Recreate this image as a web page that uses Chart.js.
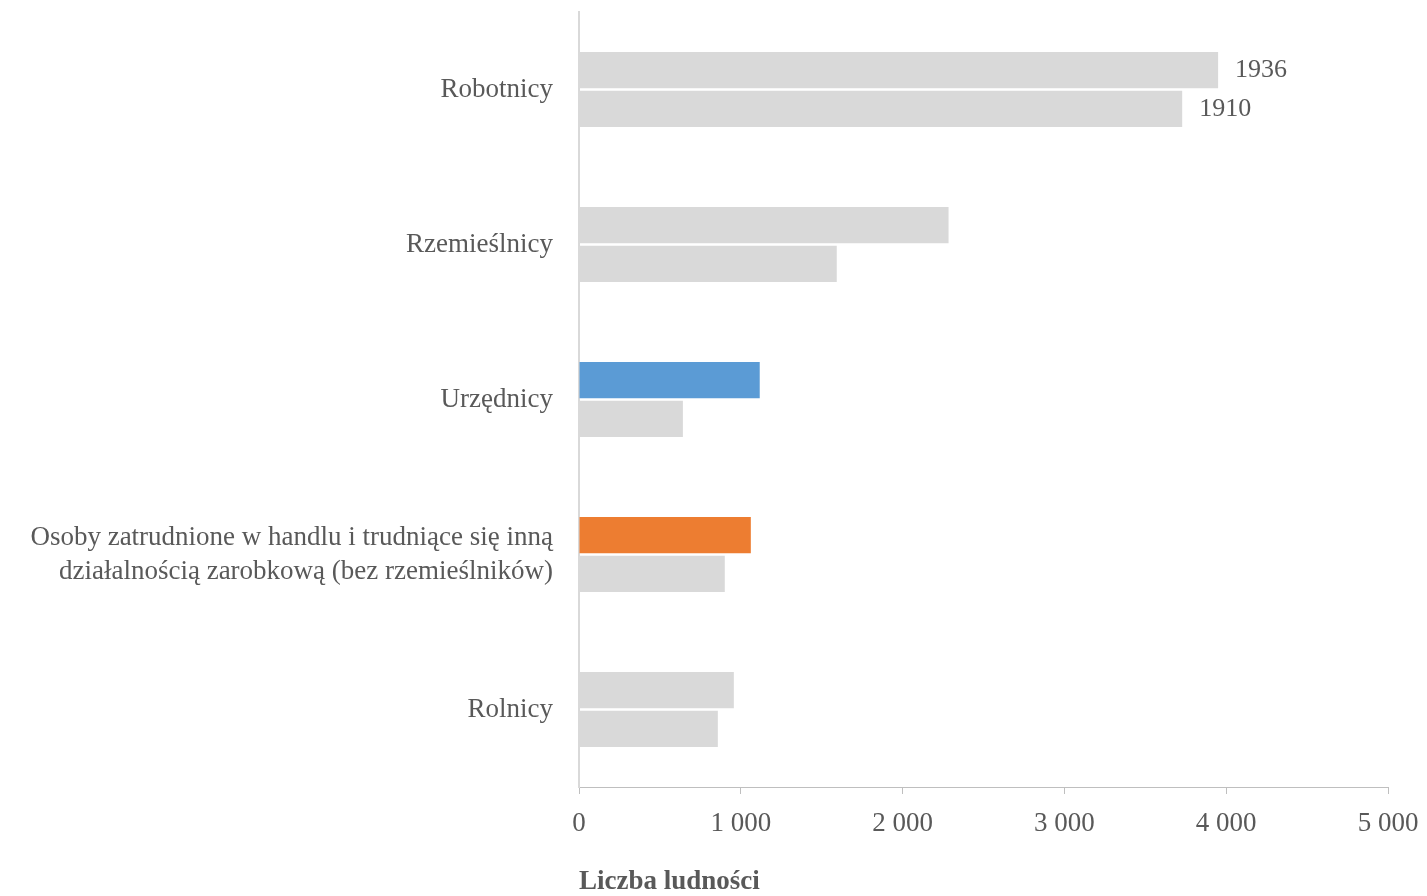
<!DOCTYPE html>
<html lang="pl">
<head>
<meta charset="utf-8">
<title>Struktura zawodowa ludności</title>
<script src="https://cdn.jsdelivr.net/npm/chart.js@4/dist/chart.umd.min.js"></script>
<style>
  html, body { margin: 0; padding: 0; background: #ffffff; }
  #wrap { width: 1427px; height: 896px; position: relative; }
</style>
</head>
<body>
<div id="wrap"><canvas id="chart"></canvas></div>
<script>
// Occupational groups (top to bottom)
const categories = [
  'Robotnicy',
  'Rzemieślnicy',
  'Urzędnicy',
  ['Osoby zatrudnione w handlu i trudniące się inną', 'działalnością zarobkową (bez rzemieślników)'],
  'Rolnicy'
];

const years = ['1936', '1910'];

const values1936 = [3950, 2284, 1117, 1062, 957];
const values1910 = [3728, 1593, 642, 901, 858];

const xTicks = [0, 1000, 2000, 3000, 4000, 5000];

const FONT = '"Liberation Serif", "DejaVu Serif", serif';
const TEXT = '#595959';
const GREY = '#d9d9d9';

const colors1936 = [GREY, GREY, '#5b9bd5', '#ed7d31', GREY];

// Writes the year next to the bars of the first category
const yearLabels = {
  id: 'yearLabels',
  afterDatasetsDraw(chart) {
    const ctx = chart.ctx;
    ctx.save();
    ctx.font = '26px ' + FONT;
    ctx.fillStyle = TEXT;
    ctx.textAlign = 'left';
    ctx.textBaseline = 'middle';
    chart.data.datasets.forEach((ds, i) => {
      const bar = chart.getDatasetMeta(i).data[0];
      ctx.fillText(ds.label, bar.x + 17, bar.y);
    });
    ctx.restore();
  }
};

const fmt = v => String(v).replace(/\B(?=(\d{3})+(?!\d))/g, ' ');

new Chart(document.getElementById('chart'), {
  type: 'bar',
  data: {
    labels: categories,
    datasets: [
      { label: years[0], data: values1936, backgroundColor: colors1936 },
      { label: years[1], data: values1910, backgroundColor: GREY }
    ]
  },
  plugins: [yearLabels],
  options: {
    indexAxis: 'y',
    responsive: true,
    maintainAspectRatio: false,
    animation: false,
    categoryPercentage: 0.5,
    barPercentage: 0.94,
    layout: { padding: { top: 12, right: 39, bottom: 0, left: 0 } },
    plugins: {
      legend: { display: false },
      tooltip: { enabled: false }
    },
    scales: {
      x: {
        min: 0,
        max: 5000,
        afterBuildTicks(scale) { scale.ticks = xTicks.map(v => ({ value: v })); },
        afterFit(scale) {
          scale.height = 109;
          scale.paddingLeft = 0;
          scale.paddingRight = 0;
        },
        grid: {
          drawOnChartArea: false,
          drawTicks: true,
          tickLength: 7,
          color: '#bfbfbf'
        },
        border: { color: '#bfbfbf', width: 1 },
        ticks: {
          color: TEXT,
          font: { family: FONT, size: 27 },
          padding: 14,
          maxRotation: 0,
          callback: v => fmt(v)
        },
        title: {
          display: true,
          text: 'Liczba ludności',
          align: 'start',
          color: TEXT,
          font: { family: FONT, size: 27, weight: 'bold', lineHeight: 1.0 },
          padding: { top: 0, bottom: 0 }
        }
      },
      y: {
        afterFit(scale) {
          scale.width = 579;
          scale.paddingTop = 0;
          scale.paddingBottom = 0;
        },
        grid: { display: false },
        border: { color: GREY, width: 2 },
        ticks: {
          color: TEXT,
          font: { family: FONT, size: 27, lineHeight: 1.26 },
          padding: 18
        }
      }
    }
  }
});
</script>
</body>
</html>
